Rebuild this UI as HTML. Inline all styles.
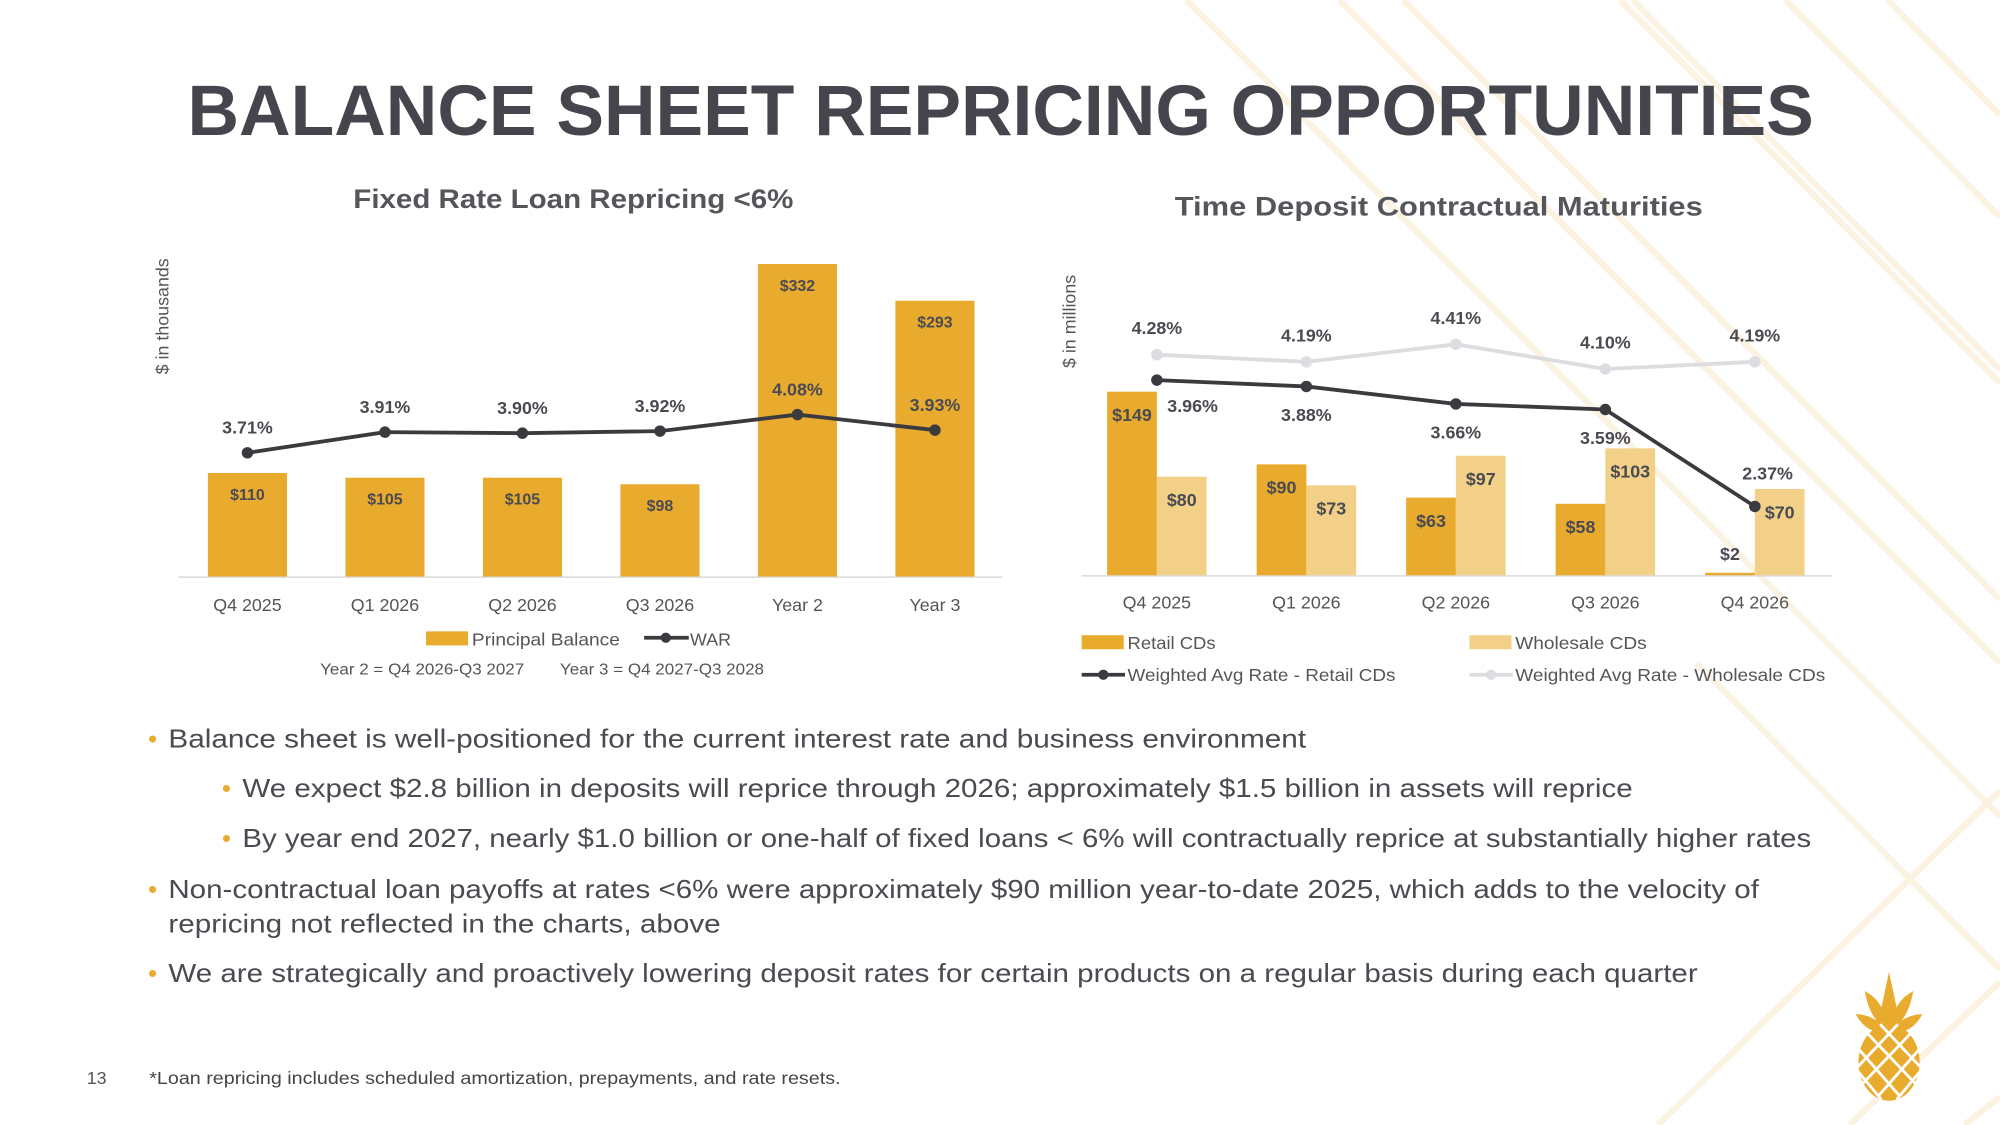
<!DOCTYPE html>
<html><head><meta charset="utf-8"><style>
html,body{margin:0;padding:0;background:#fff;}
svg{display:block;font-family:"Liberation Sans",sans-serif;}
</style></head><body>
<svg id="s" width="2000" height="1125" viewBox="0 0 1568 882" xmlns="http://www.w3.org/2000/svg">
<g id="bg" stroke="#FBF0DC" stroke-width="5" opacity="0.8">
<line x1="930" y1="0" x2="1568" y2="640"/>
<line x1="1100" y1="0" x2="1568" y2="470"/>
<line x1="1280" y1="0" x2="1568" y2="290"/>
<line x1="1400" y1="0" x2="1568" y2="170"/>
<line x1="1568" y1="90" x2="1480" y2="0"/>
<line x1="1568" y1="300" x2="1270" y2="0"/>
<line x1="1568" y1="520" x2="1050" y2="0"/>
<line x1="1568" y1="760" x2="1330" y2="520"/>
<line x1="1450" y1="882" x2="1568" y2="770"/>
<line x1="1300" y1="882" x2="1568" y2="620"/>
<line x1="1568" y1="860" x2="1540" y2="882"/>
</g>
<text x="147" y="106" font-size="56" font-weight="bold" fill="#45454D" textLength="1275" lengthAdjust="spacingAndGlyphs">BALANCE SHEET REPRICING OPPORTUNITIES</text>
<text x="277" y="163" font-size="21" font-weight="bold" fill="#55555C" textLength="345" lengthAdjust="spacingAndGlyphs">Fixed Rate Loan Repricing &lt;6%</text>
<text x="921" y="169" font-size="21" font-weight="bold" fill="#55555C" textLength="414" lengthAdjust="spacingAndGlyphs">Time Deposit Contractual Maturities</text>
<text transform="translate(132,248) rotate(-90)" font-size="14" fill="#555" text-anchor="middle">$ in thousands</text>
<text transform="translate(843,252) rotate(-90)" font-size="14" fill="#555" text-anchor="middle">$ in millions</text>
<g id="left"></g>
<g id="right"></g>
<g font-size="14" fill="#555">
<rect x="334" y="495" width="33" height="11" fill="#E9AB2E"/><text x="370" y="506" textLength="116" lengthAdjust="spacingAndGlyphs">Principal Balance</text>
<line x1="505" y1="500" x2="540" y2="500" stroke="#3B3B3F" stroke-width="3"/><circle cx="522" cy="500" r="4" fill="#3B3B3F"/><text x="541" y="506">WAR</text>
<text x="251" y="529" font-size="12.5" textLength="160" lengthAdjust="spacingAndGlyphs">Year 2 = Q4 2026-Q3 2027</text>
<text x="439" y="529" font-size="12.5" textLength="160" lengthAdjust="spacingAndGlyphs">Year 3 = Q4 2027-Q3 2028</text>
</g>
<g font-size="14" fill="#555">
<rect x="848" y="498" width="33" height="11" fill="#E9AB2E"/><text x="884" y="509" textLength="69" lengthAdjust="spacingAndGlyphs">Retail CDs</text>
<rect x="1152" y="498" width="33" height="11" fill="#F2D088"/><text x="1188" y="509" textLength="103" lengthAdjust="spacingAndGlyphs">Wholesale CDs</text>
<line x1="848" y1="529" x2="882" y2="529" stroke="#3B3B3F" stroke-width="3"/><circle cx="865" cy="529" r="4" fill="#3B3B3F"/><text x="884" y="534" textLength="210" lengthAdjust="spacingAndGlyphs">Weighted Avg Rate - Retail CDs</text>
<line x1="1152" y1="529" x2="1186" y2="529" stroke="#DDDCE0" stroke-width="3"/><circle cx="1169" cy="529" r="4" fill="#DDDCE0"/><text x="1188" y="534" textLength="243" lengthAdjust="spacingAndGlyphs">Weighted Avg Rate - Wholesale CDs</text>
</g>
<g font-size="20.5" fill="#4A4A52">
<text x="116" y="586" fill="#E9AB2E">•</text><text x="132" y="586" textLength="892" lengthAdjust="spacingAndGlyphs">Balance sheet is well-positioned for the current interest rate and business environment</text>
<text x="174" y="625" fill="#E9AB2E">•</text><text x="190" y="625" textLength="1090" lengthAdjust="spacingAndGlyphs">We expect $2.8 billion in deposits will reprice through 2026; approximately $1.5 billion in assets will reprice</text>
<text x="174" y="664" fill="#E9AB2E">•</text><text x="190" y="664" textLength="1230" lengthAdjust="spacingAndGlyphs">By year end 2027, nearly $1.0 billion or one-half of fixed loans &lt; 6% will contractually reprice at substantially higher rates</text>
<text x="116" y="704" fill="#E9AB2E">•</text><text x="132" y="704" textLength="1247" lengthAdjust="spacingAndGlyphs">Non-contractual loan payoffs at rates &lt;6% were approximately $90 million year-to-date 2025, which adds to the velocity of</text>
<text x="132" y="731" textLength="433" lengthAdjust="spacingAndGlyphs">repricing not reflected in the charts, above</text>
<text x="116" y="770" fill="#E9AB2E">•</text><text x="132" y="770" textLength="1199" lengthAdjust="spacingAndGlyphs">We are strategically and proactively lowering deposit rates for certain products on a regular basis during each quarter</text>
</g>
<text x="68" y="850" font-size="14" fill="#555">13</text>
<text x="117" y="850" font-size="14" fill="#444" textLength="542" lengthAdjust="spacingAndGlyphs">*Loan repricing includes scheduled amortization, prepayments, and rate resets.</text>
<g fill="#E9AB2E">
<path d="M1481 762 L1487 790 L1481 810 L1475 790 Z"/>
<path d="M1462 777 Q1478 785 1480 808 Q1466 800 1462 777Z"/>
<path d="M1500 777 Q1484 785 1482 808 Q1496 800 1500 777Z"/>
<path d="M1455 795 Q1472 796 1480 810 Q1462 810 1455 795Z"/>
<path d="M1507 795 Q1490 796 1482 810 Q1500 810 1507 795Z"/>
<ellipse cx="1481" cy="833" rx="24" ry="30"/>
<g stroke="#fff" stroke-width="2.2" fill="none">
<line x1="1455" y1="820" x2="1490" y2="860"/><line x1="1462" y1="808" x2="1504" y2="852"/><line x1="1474" y1="803" x2="1507" y2="838"/><line x1="1455" y1="838" x2="1475" y2="862"/>
<line x1="1507" y1="820" x2="1472" y2="860"/><line x1="1500" y1="808" x2="1458" y2="852"/><line x1="1488" y1="803" x2="1455" y2="838"/><line x1="1507" y1="838" x2="1487" y2="862"/>
</g></g>
<script>
const loanCats=["Q4 2025","Q1 2026","Q2 2026","Q3 2026","Year 2","Year 3"];
const loanBal=[110,105,105,98,332,293];
const loanWar=[3.71,3.91,3.90,3.92,4.08,3.93];
const depCats=["Q4 2025","Q1 2026","Q2 2026","Q3 2026","Q4 2026"];
const retail=[149,90,63,58,2];
const wholesale=[80,73,97,103,70];
const retailRate=[3.96,3.88,3.66,3.59,2.37];
const wholesaleRate=[4.28,4.19,4.41,4.10,4.19];
const NS="http://www.w3.org/2000/svg";
function mk(p,t,a,txt){const e=document.createElementNS(NS,t);for(const k in a)e.setAttribute(k,a[k]);if(txt!==undefined)e.textContent=txt;p.appendChild(e);return e;}
// left chart
const L=document.getElementById('left');
const lx=i=>194+i*107.8, ly=v=>452-v*0.738, lr=v=>355-(v-3.71)*81;
mk(L,'line',{x1:140,y1:452.5,x2:786,y2:452.5,stroke:'#D9D9D9','stroke-width':1.2});
loanBal.forEach((v,i)=>{
 const r=mk(L,'rect',{x:lx(i)-31,y:ly(v),width:62,height:452-ly(v),fill:'#E9AB2E'});
 
 
 const t=mk(L,'text',{x:lx(i),y:ly(v)+21,'font-size':12.5,'font-weight':'bold',fill:'#4A4A52','text-anchor':'middle'},'$'+v);
 
 
 const c=mk(L,'text',{x:lx(i),y:479,'font-size':14,fill:'#555','text-anchor':'middle'},loanCats[i]);
 
 
});
const lp=mk(L,'polyline',{points:loanWar.map((v,i)=>lx(i)+','+lr(v)).join(' '),fill:'none',stroke:'#3B3B3F','stroke-width':3});


loanWar.forEach((v,i)=>{
 mk(L,'circle',{cx:lx(i),cy:lr(v),r:4.5,fill:'#3B3B3F'});
 const t=mk(L,'text',{x:lx(i),y:lr(v)-15,'font-size':14,'font-weight':'bold',fill:'#4A4A52','text-anchor':'middle'},v.toFixed(2)+'%');
 
 
});
// right chart
const R=document.getElementById('right');
const rx=i=>907+i*117.2, ry=v=>451-v*0.966, rr=v=>298-(v-3.96)*62.3;
mk(R,'line',{x1:848,y1:451.5,x2:1436,y2:451.5,stroke:'#D9D9D9','stroke-width':1.2});
depCats.forEach((c,i)=>{
 const a=mk(R,'rect',{x:rx(i)-39,y:ry(retail[i]),width:39,height:451-ry(retail[i]),fill:'#E9AB2E'});
 
 
 const b=mk(R,'rect',{x:rx(i),y:ry(wholesale[i]),width:39,height:451-ry(wholesale[i]),fill:'#F2D088'});
 
 
 const ty=retail[i]<10?ry(retail[i])-10:ry(retail[i])+23;
 const t1=mk(R,'text',{x:rx(i)-19.5,y:ty,'font-size':14,'font-weight':'bold',fill:'#4A4A52','text-anchor':'middle'},'$'+retail[i]);
 
 
 const t2=mk(R,'text',{x:rx(i)+19.5,y:ry(wholesale[i])+23,'font-size':14,'font-weight':'bold',fill:'#4A4A52','text-anchor':'middle'},'$'+wholesale[i]);
 
 
 const ct=mk(R,'text',{x:rx(i),y:477,'font-size':14,fill:'#555','text-anchor':'middle'},c);
 
 
});
const wl=mk(R,'polyline',{points:wholesaleRate.map((v,i)=>rx(i)+','+rr(v)).join(' '),fill:'none',stroke:'#DDDCE0','stroke-width':3});


const rl=mk(R,'polyline',{points:retailRate.map((v,i)=>rx(i)+','+rr(v)).join(' '),fill:'none',stroke:'#3B3B3F','stroke-width':3});


const retDx=[28,0,0,0,10], retDy=[25,27,27,27,-21];
wholesaleRate.forEach((v,i)=>{
 mk(R,'circle',{cx:rx(i),cy:rr(v),r:4.5,fill:'#DDDCE0'});
 const t=mk(R,'text',{x:rx(i),y:rr(v)-16,'font-size':14,'font-weight':'bold',fill:'#4A4A52','text-anchor':'middle'},v.toFixed(2)+'%');
 
 
});
retailRate.forEach((v,i)=>{
 mk(R,'circle',{cx:rx(i),cy:rr(v),r:4.5,fill:'#3B3B3F'});
 const t=mk(R,'text',{x:rx(i)+retDx[i],y:rr(v)+retDy[i],'font-size':14,'font-weight':'bold',fill:'#4A4A52','text-anchor':'middle'},v.toFixed(2)+'%');
 
 
});
</script>
</svg>
</body></html>
